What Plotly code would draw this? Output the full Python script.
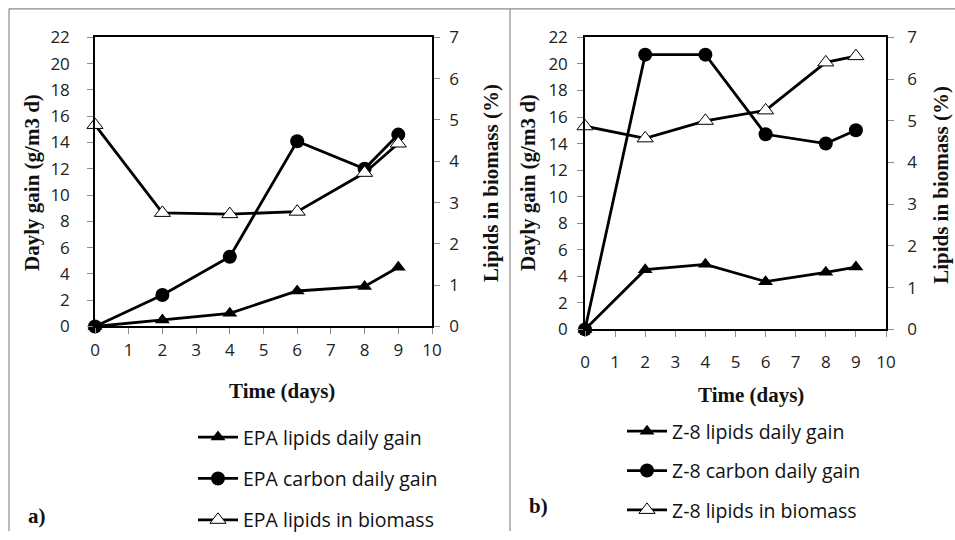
import plotly.graph_objects as go

# ---- data ----
days = [0, 2, 4, 6, 8, 9]

epa_lipids_gain = [0.0, 0.5, 1.0, 2.7, 3.05, 4.5]
epa_carbon_gain = [0.0, 2.4, 5.3, 14.1, 12.0, 14.6]
epa_lipids_biomass = [4.88, 2.75, 2.72, 2.78, 3.72, 4.43]

z8_lipids_gain = [0.0, 4.5, 4.9, 3.6, 4.3, 4.7]
z8_carbon_gain = [0.0, 20.7, 20.7, 14.7, 14.0, 15.0]
z8_lipids_biomass = [4.87, 4.58, 5.0, 5.25, 6.4, 6.55]

x_ticks = list(range(0, 11))
y_left_ticks = list(range(0, 23, 2))
y_right_ticks = list(range(0, 8))

W, H = 955, 540
def px(x):
    return x / W
def py(y):
    return 1 - y / H

fig = go.Figure()

LINE_W = 2.8
TICKFONT = dict(family="Open Sans, Liberation Sans, sans-serif", size=17, color="#222")
TITLEFONT = dict(family="Liberation Serif, Times New Roman, serif", size=21, color="#111")
LEGFONT = dict(family="Open Sans, Liberation Sans, sans-serif", size=19.5, color="#111")

def add_panel(prefix, lg, lc, lb, xa, ya, ya2, legend):
    fig.add_trace(go.Scatter(
        x=days, y=lg, name=f"{prefix} lipids daily gain", mode="lines+markers",
        line=dict(color="black", width=LINE_W),
        marker=dict(symbol="triangle-up", size=13, color="black"),
        xaxis=xa, yaxis=ya, legend=legend, legendgroup=f"{prefix}1", cliponaxis=False))
    fig.add_trace(go.Scatter(
        x=days, y=lc, name=f"{prefix} carbon daily gain", mode="lines+markers",
        line=dict(color="black", width=LINE_W),
        marker=dict(symbol="circle", size=14, color="black"),
        xaxis=xa, yaxis=ya, legend=legend, legendgroup=f"{prefix}2", cliponaxis=False))
    fig.add_trace(go.Scatter(
        x=days, y=lb, name=f"{prefix} lipids in biomass", mode="lines+markers",
        line=dict(color="black", width=LINE_W),
        marker=dict(symbol="triangle-up", size=14, color="white",
                    line=dict(color="black", width=1)),
        xaxis=xa, yaxis=ya2, legend=legend, legendgroup=f"{prefix}3", cliponaxis=False))

add_panel("EPA", epa_lipids_gain, epa_carbon_gain, epa_lipids_biomass, "x", "y", "y2", "legend")
add_panel("Z-8", z8_lipids_gain, z8_carbon_gain, z8_lipids_biomass, "x2", "y3", "y4", "legend2")

axis_common = dict(showgrid=False, zeroline=False, showline=True, linecolor="black",
                   linewidth=1.5, ticks="outside", ticklen=6, tickcolor="#8c8c8c",
                   tickwidth=1.2, tickfont=TICKFONT, automargin=False)

left_dom_x = [px(95), px(432)]
left_dom_y = [py(332), py(38)]
right_dom_x = [px(585), px(886)]
right_dom_y = [py(335), py(38)]

fig.update_layout(
    template="none",
    width=W, height=H,
    margin=dict(l=0, r=0, t=0, b=0, pad=0),
    paper_bgcolor="white", plot_bgcolor="white",
    xaxis=dict(domain=left_dom_x, range=[0, 10], tickvals=x_ticks, anchor="y",
               mirror=True, ticklabelstandoff=1, **axis_common),
    yaxis=dict(domain=left_dom_y, range=[0, 22], tickvals=y_left_ticks, anchor="x",
               ticklabelstandoff=14, **axis_common),
    yaxis2=dict(range=[0, 7], tickvals=y_right_ticks, overlaying="y", side="right",
                anchor="x", ticklabelstandoff=6, **axis_common),
    xaxis2=dict(domain=right_dom_x, range=[0, 10], tickvals=x_ticks, anchor="y3",
                mirror=True, ticklabelstandoff=10, **axis_common),
    yaxis3=dict(domain=right_dom_y, range=[0, 22], tickvals=y_left_ticks, anchor="x2",
                ticklabelstandoff=6, **axis_common),
    yaxis4=dict(range=[0, 7], tickvals=y_right_ticks, overlaying="y3", side="right",
                anchor="x2", ticklabelstandoff=10, **axis_common),
    legend=dict(x=px(193), y=py(425),
                xanchor="left", yanchor="top",
                font=LEGFONT, tracegroupgap=13, itemwidth=40,
                bgcolor="rgba(0,0,0,0)", borderwidth=0),
    legend2=dict(x=px(622), y=py(419),
                 xanchor="left", yanchor="top",
                 font=LEGFONT, tracegroupgap=11, itemwidth=40,
                 bgcolor="rgba(0,0,0,0)", borderwidth=0),
    showlegend=True,
)

# panel frame lines
for shp in [
    dict(x0=px(9), x1=1, y0=py(9), y1=py(9)),
    dict(x0=px(9), x1=px(9), y0=0, y1=py(9)),
    dict(x0=px(510), x1=px(510), y0=0, y1=py(9)),
]:
    fig.add_shape(type="line", xref="paper", yref="paper",
                  line=dict(color="#8c8c8c", width=1.2), **shp)

ann = [
    dict(x=px(32), y=py(186), text="<b>Dayly gain (g/m3 d)</b>", textangle=-90),
    dict(x=px(491), y=py(186), text="<b>Lipids in biomass (%)</b>", textangle=-90),
    dict(x=px(282), y=py(398), text="<b>Time (days)</b>", textangle=0),
    dict(x=px(528), y=py(186), text="<b>Dayly gain (g/m3 d)</b>", textangle=-90),
    dict(x=px(941), y=py(188), text="<b>Lipids in biomass (%)</b>", textangle=-90),
    dict(x=px(751), y=py(402), text="<b>Time (days)</b>", textangle=0),
]
for a in ann:
    fig.add_annotation(xref="paper", yref="paper", showarrow=False,
                       xanchor="center", yanchor="middle", font=TITLEFONT, **a)

for t, x, y in [("<b>a)</b>", 37, 525), ("<b>b)</b>", 538, 515)]:
    fig.add_annotation(xref="paper", yref="paper", showarrow=False, x=px(x), y=py(y),
                       text=t, xanchor="center", yanchor="middle",
                       font=dict(family="Liberation Serif, Times New Roman, serif", size=21, color="#111"))

# remove the default page margin so the 955x540 figure fills the window exactly
fig.write_html(
    "out.html",
    config={"displayModeBar": False},
    post_script="document.body.style.margin='0';document.documentElement.style.overflow='hidden';",
)
